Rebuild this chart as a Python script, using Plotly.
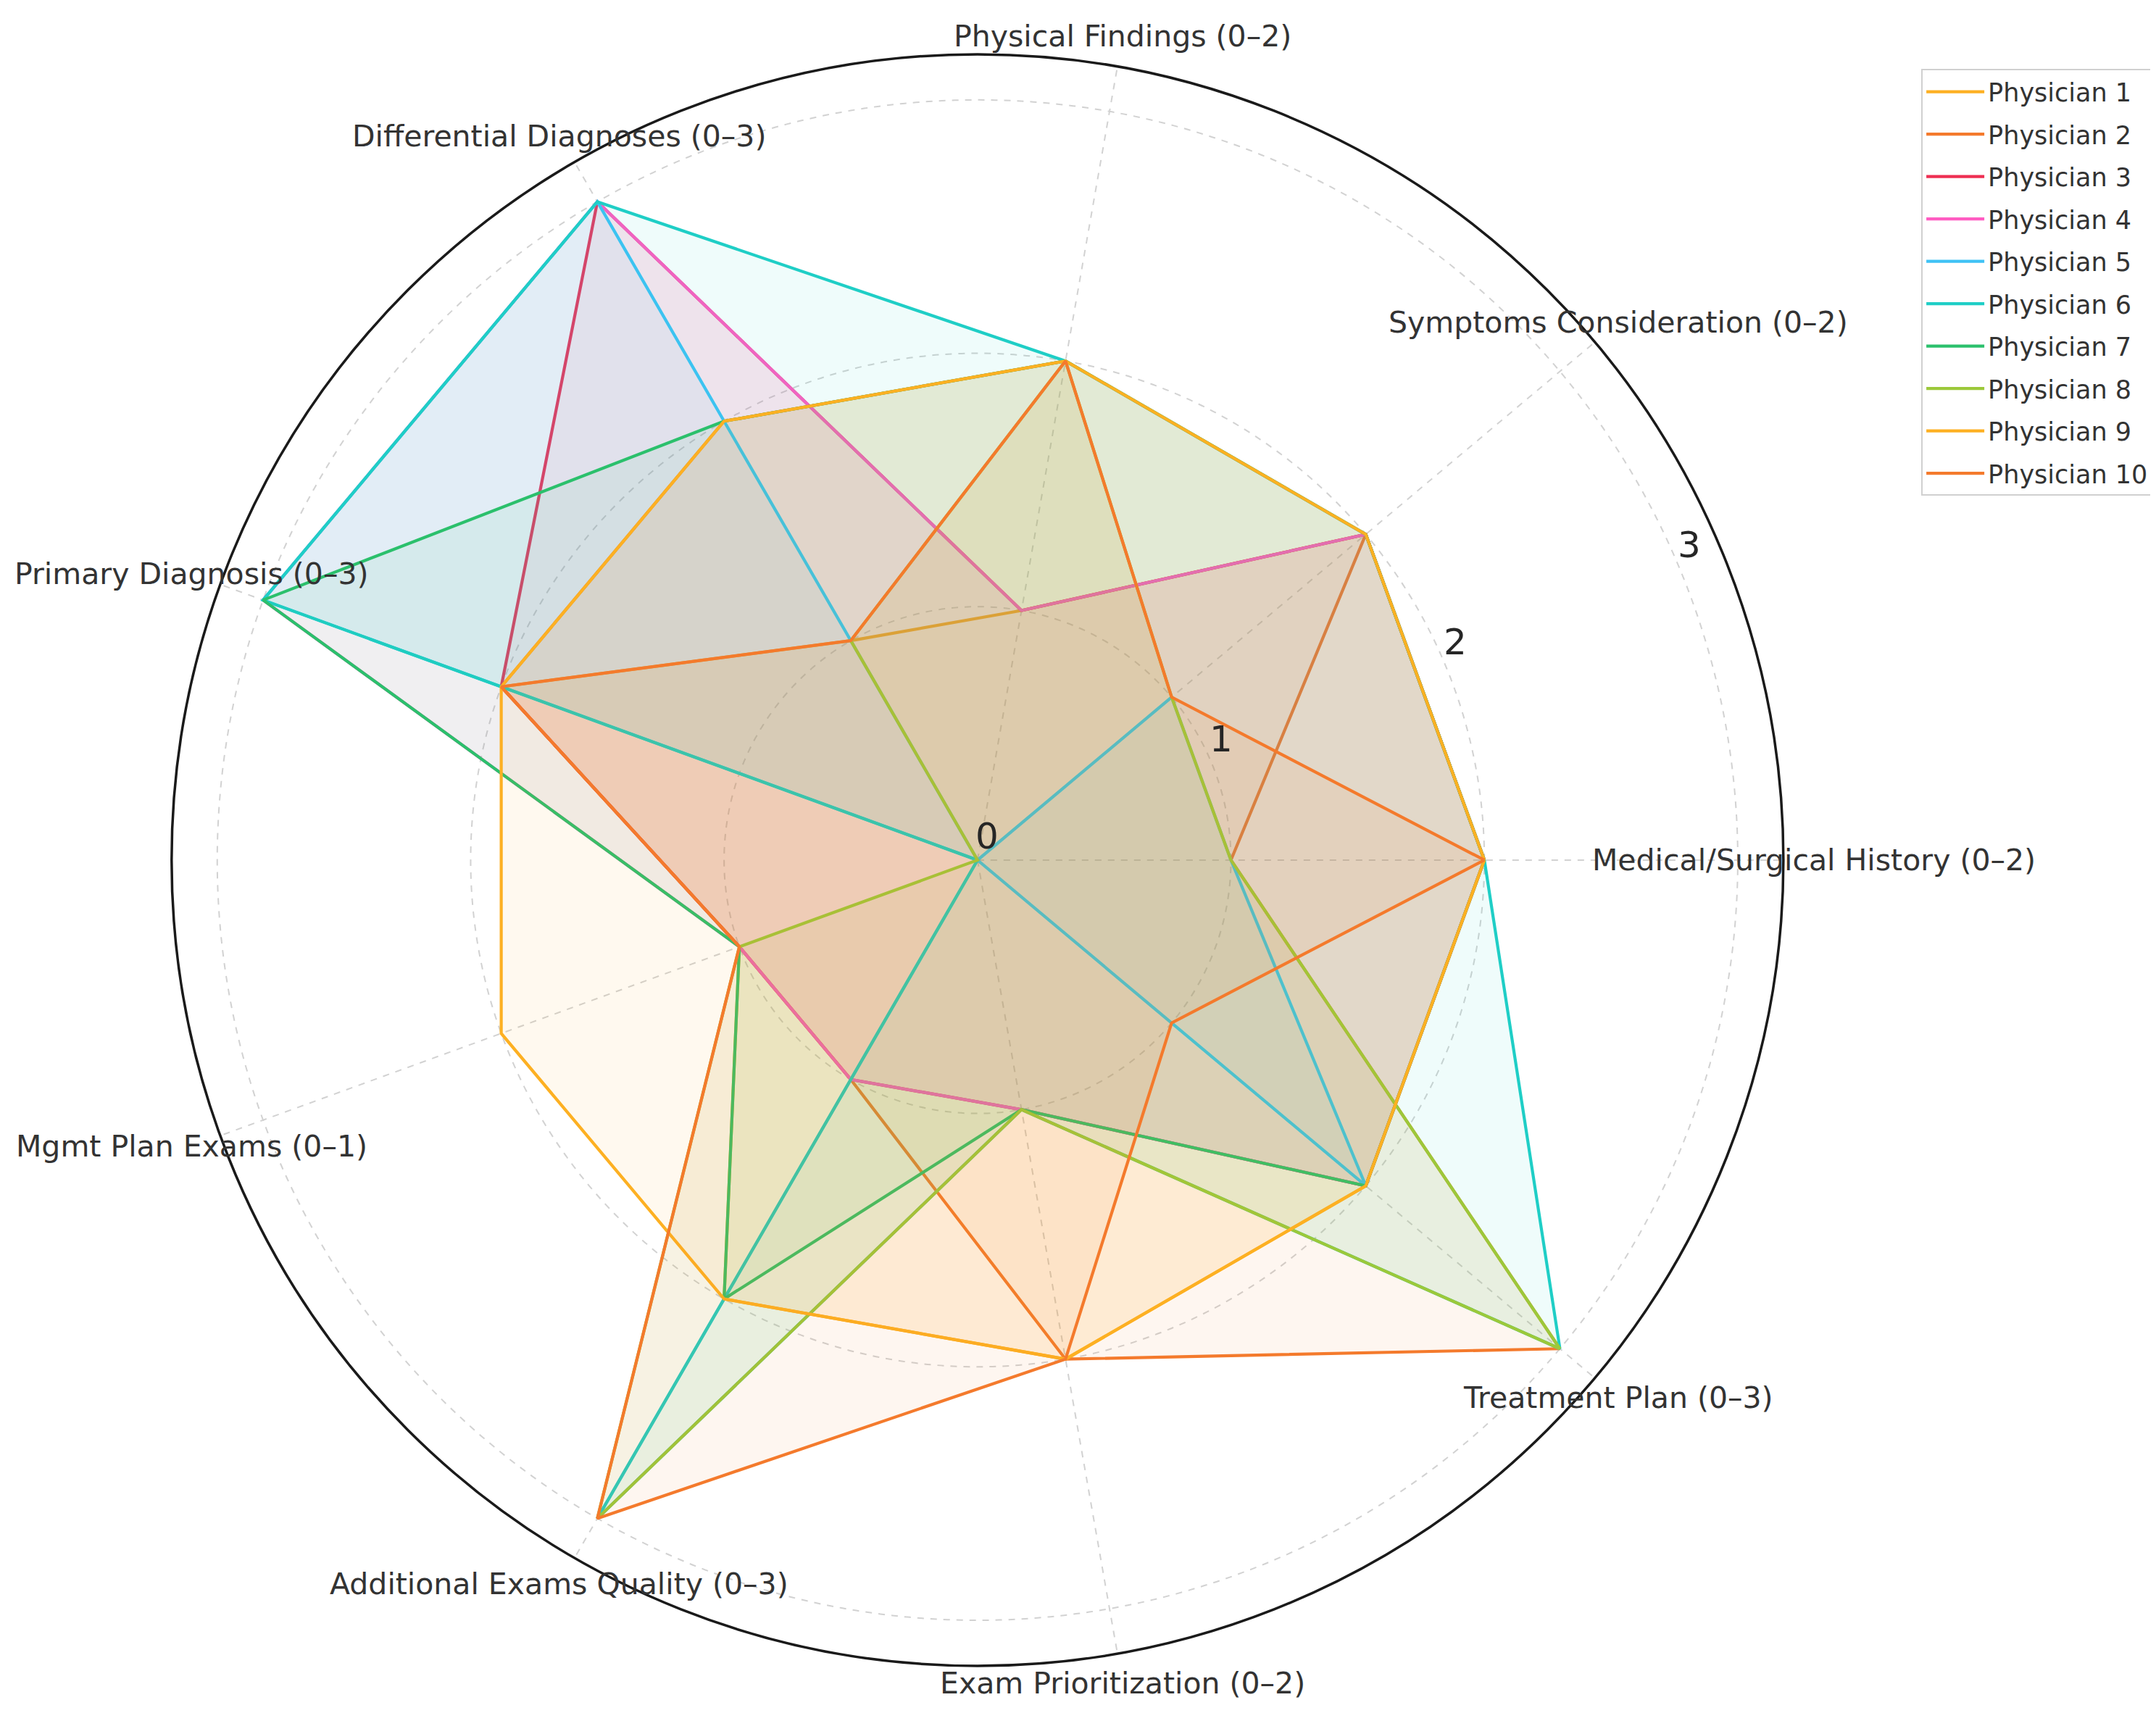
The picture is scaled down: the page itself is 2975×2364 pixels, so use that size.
import math
import plotly.graph_objects as go

categories = [
    "Medical/Surgical History (0–2)",
    "Symptoms Consideration (0–2)",
    "Physical Findings (0–2)",
    "Differential Diagnoses (0–3)",
    "Primary Diagnosis (0–3)",
    "Mgmt Plan Exams (0–1)",
    "Additional Exams Quality (0–3)",
    "Exam Prioritization (0–2)",
    "Treatment Plan (0–3)",
]

physician_1 = [2, 2, 1, 1, 2, 1, 2, 2, 2]
physician_2 = [1, 2, 2, 2, 2, 1, 1, 2, 3]
physician_3 = [2, 2, 1, 3, 2, 1, 1, 1, 2]
physician_4 = [2, 2, 1, 3, 3, 1, 1, 1, 2]
physician_5 = [1, 1, 0, 3, 3, 0, 3, 0, 2]
physician_6 = [2, 2, 2, 3, 3, 0, 3, 1, 3]
physician_7 = [2, 2, 2, 2, 3, 1, 2, 1, 2]
physician_8 = [1, 1, 2, 1, 0, 1, 3, 1, 3]
physician_9 = [2, 2, 2, 2, 2, 2, 2, 2, 2]
physician_10 = [2, 1, 2, 1, 2, 1, 3, 2, 1]

names = ["Physician %d" % i for i in range(1, 11)]
scores = [physician_1, physician_2, physician_3, physician_4, physician_5,
          physician_6, physician_7, physician_8, physician_9, physician_10]

radial_ticks = [0, 1, 2, 3]

# 8 colour palette, cycles for physicians 9 and 10
palette = ["#FDB022", "#F47A2C", "#EE2F52", "#FF5CC2",
           "#3FC2F5", "#1FCEC6", "#2BC06C", "#9CC83A"]

theta = [i * 360 / len(categories) for i in range(len(categories))]

W, H = 2975, 2364
dom_x = [0.0769, 0.8245]
dom_y = [0.0309, 0.9717]
r_max = 3.18


def rgba(hex_color, alpha):
    h = hex_color.lstrip("#")
    return "rgba(%d,%d,%d,%.3f)" % (int(h[0:2], 16), int(h[2:4], 16), int(h[4:6], 16), alpha)


# polar -> paper helper, only used for placing text labels
cx = (dom_x[0] + dom_x[1]) / 2
cy = (dom_y[0] + dom_y[1]) / 2
unit = (dom_x[1] - dom_x[0]) * W / 2 / r_max


def to_paper(r, deg):
    a = math.radians(deg)
    return cx + r * unit * math.cos(a) / W, cy + r * unit * math.sin(a) / H


fig = go.Figure()

for i, (name, vals) in enumerate(zip(names, scores)):
    col = palette[i % len(palette)]
    r_closed = vals + vals[:1]
    t_closed = theta + theta[:1]
    fig.add_trace(go.Scatterpolar(
        r=r_closed, theta=t_closed
        , mode="lines"
        , line=dict(color=col, width=0)
        , fill="toself"
        , fillcolor=rgba(col, 0.07)
        , showlegend=False
        , legendgroup=name
        , hoverinfo="skip"
    ))
    fig.add_trace(go.Scatterpolar(
        r=r_closed, theta=t_closed
        , mode="lines"
        , line=dict(color=col, width=4.2)
        , name=name
        , legendgroup=name
    ))

annotations = []
# category labels centred just outside the outer ring
for lab, t in zip(categories, theta):
    px_, py_ = to_paper(3.30, t)
    annotations.append(dict(
        x=px_, y=py_, xref="paper", yref="paper", text=lab, showarrow=False
        , xanchor="center", yanchor="middle"
        , font=dict(family="DejaVu Sans", size=41, color="#333333")
    ))
# radial tick labels along 22.5 degrees
for v in radial_ticks:
    px_, py_ = to_paper(v, 22.5)
    annotations.append(dict(
        x=px_, y=py_, xref="paper", yref="paper", text=str(v), showarrow=False
        , xanchor="center", yanchor="middle", xshift=13, yshift=33
        , font=dict(family="DejaVu Sans", size=50, color="#262626")
    ))

fig.update_layout(
    width=W, height=H
    , margin=dict(l=0, r=0, t=0, b=0)
    , paper_bgcolor="white"
    , font=dict(family="DejaVu Sans", color="#333333")
    , annotations=annotations
    , polar=dict(
        domain=dict(x=dom_x, y=dom_y)
        , bgcolor="white"
        , radialaxis=dict(range=[0, r_max], tickvals=[1, 2, 3], showticklabels=False
                          , ticks="", showline=False, gridcolor="#d2d2d2", gridwidth=2
                          , griddash="dash", angle=22.5)
        , angularaxis=dict(direction="counterclockwise", rotation=0
                           , tickvals=theta, showticklabels=False, ticks=""
                           , gridcolor="#d2d2d2", gridwidth=2, griddash="dash"
                           , showline=True, linecolor="#1a1a1a", linewidth=3.5)
    )
    , legend=dict(
        x=0.996, y=0.963, xanchor="right", yanchor="top"
        , bgcolor="white", bordercolor="#d0d0d0", borderwidth=2
        , font=dict(family="DejaVu Sans", size=35, color="#333333")
        , itemwidth=80
    )
)

fig.write_html("out.html")
